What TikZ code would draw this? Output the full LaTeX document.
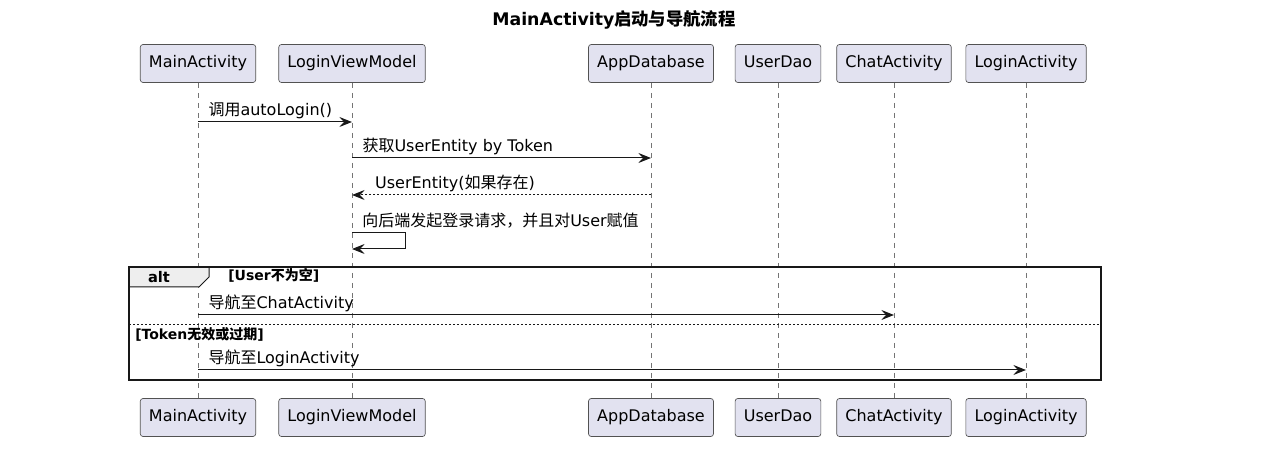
\documentclass[tikz,border=0pt]{standalone}
\usepackage{fontspec}
\setmainfont{DejaVu Sans}
\newfontfamily\cjk{Noto Sans CJK SC}
\usetikzlibrary{arrows.meta}
\definecolor{partfill}{HTML}{E2E2F0}
\definecolor{umlline}{HTML}{181818}
\definecolor{tabfill}{HTML}{EEEEEE}

\begin{document}
\begin{tikzpicture}[x=0.75pt,y=-0.75pt,
    participant/.style ={rectangle, draw=umlline!75, fill=partfill, line width=0.5pt, rounded corners=2pt, minimum height=28.5pt, text height=8.6pt, text depth=2.4pt, inner xsep=6.5pt, font=\fontsize{12}{14}\selectfont},
    lifeline/.style ={draw=umlline!60, line width=0.5pt, dash pattern=on 3.75pt off 3.75pt},
    message/.style ={draw=umlline, line width=0.75pt, -{Stealth[length=9.5pt,width=7.5pt,inset=3.5pt]}},
    reply/.style ={message, dash pattern=on 1.5pt off 1.5pt},
    msglabel/.style ={anchor=base west, inner sep=0pt, font=\fontsize{12}{14}\selectfont},
    guard/.style ={anchor=base west, inner sep=0pt, font=\fontsize{10.5}{12}\selectfont\bfseries}]

   \useasboundingbox (0,0) rectangle (1265,452);

   \node[font=\fontsize{13}{15}\selectfont\bfseries] (title) at (614,20) {MainActivity{\cjk 启动与导航流程}};

   \node[participant] (mainT) at (198,63.5) {MainActivity};
   \node[participant] (lvmT) at (352,63.5) {LoginViewModel};
   \node[participant] (dbT) at (651,63.5) {AppDatabase};
   \node[participant] (daoT) at (778,63.5) {UserDao};
   \node[participant] (chatT) at (894,63.5) {ChatActivity};
   \node[participant] (loginT) at (1026,63.5) {LoginActivity};

   \node[participant] (mainB) at (198,417.5) {MainActivity};
   \node[participant] (lvmB) at (352,417.5) {LoginViewModel};
   \node[participant] (dbB) at (651,417.5) {AppDatabase};
   \node[participant] (daoB) at (778,417.5) {UserDao};
   \node[participant] (chatB) at (894,417.5) {ChatActivity};
   \node[participant] (loginB) at (1026,417.5) {LoginActivity};

   \draw[lifeline] (mainT) -- (mainB);
   \draw[lifeline] (lvmT) -- (lvmB);
   \draw[lifeline] (dbT) -- (dbB);
   \draw[lifeline] (daoT) -- (daoB);
   \draw[lifeline] (chatT) -- (chatB);
   \draw[lifeline] (loginT) -- (loginB);

   \coordinate (r1) at (0,122);
   \coordinate (r2) at (0,158);
   \coordinate (r3) at (0,195);
   \coordinate (r4) at (0,233);
   \coordinate (r4b) at (0,249);
   \coordinate (r5) at (0,315);
   \coordinate (r6) at (0,370);

   \draw[message] (mainT |- r1) -- node[msglabel, at start, xshift=7.5pt, yshift=4.5pt] {{\cjk 调用}autoLogin()} (lvmT |- r1);
   \draw[message] (lvmT |- r2) -- node[msglabel, at start, xshift=7.5pt, yshift=4.5pt] {{\cjk 获取}UserEntity by Token} (dbT |- r2);
   \draw[reply] (dbT |- r3) -- node[msglabel, at end, xshift=17pt, yshift=4.5pt] {UserEntity({\cjk 如果存在})} (lvmT |- r3);
   \draw[message] (lvmT |- r4) -- ++(53,0) -- ++(0,16) -- (lvmT |- r4b);
   \node[msglabel, xshift=7.5pt, yshift=5pt] (selfmsg) at (lvmT |- r4) {{\cjk 向后端发起登录请求，并且对}User{\cjk 赋值}};

   \draw[umlline, line width=0.75pt, fill=tabfill] (129,267) -- (209,267) -- (209,277) -- (199,287) -- (129,287) -- cycle;
   \draw[umlline, line width=1.5pt] (129,267) rectangle (1101,380);
   \draw[umlline, line width=0.75pt, dash pattern=on 1.5pt off 1.5pt] (129,325) -- (1101,325);
   \node[font=\fontsize{11}{13}\selectfont\bfseries] (alt) at (159,277.5) {alt};
   \node[guard] (guard1) at (228,281) {[User{\cjk 不为空}]};
   \node[guard] (guard2) at (135,340) {[Token{\cjk 无效或过期}]};

   \draw[message] (mainT |- r5) -- node[msglabel, at start, xshift=7.5pt, yshift=4.5pt] {{\cjk 导航至}ChatActivity} (chatT |- r5);
   \draw[message] (mainT |- r6) -- node[msglabel, at start, xshift=7.5pt, yshift=4.5pt] {{\cjk 导航至}LoginActivity} (loginT |- r6);
 \end{tikzpicture}
\end{document}
